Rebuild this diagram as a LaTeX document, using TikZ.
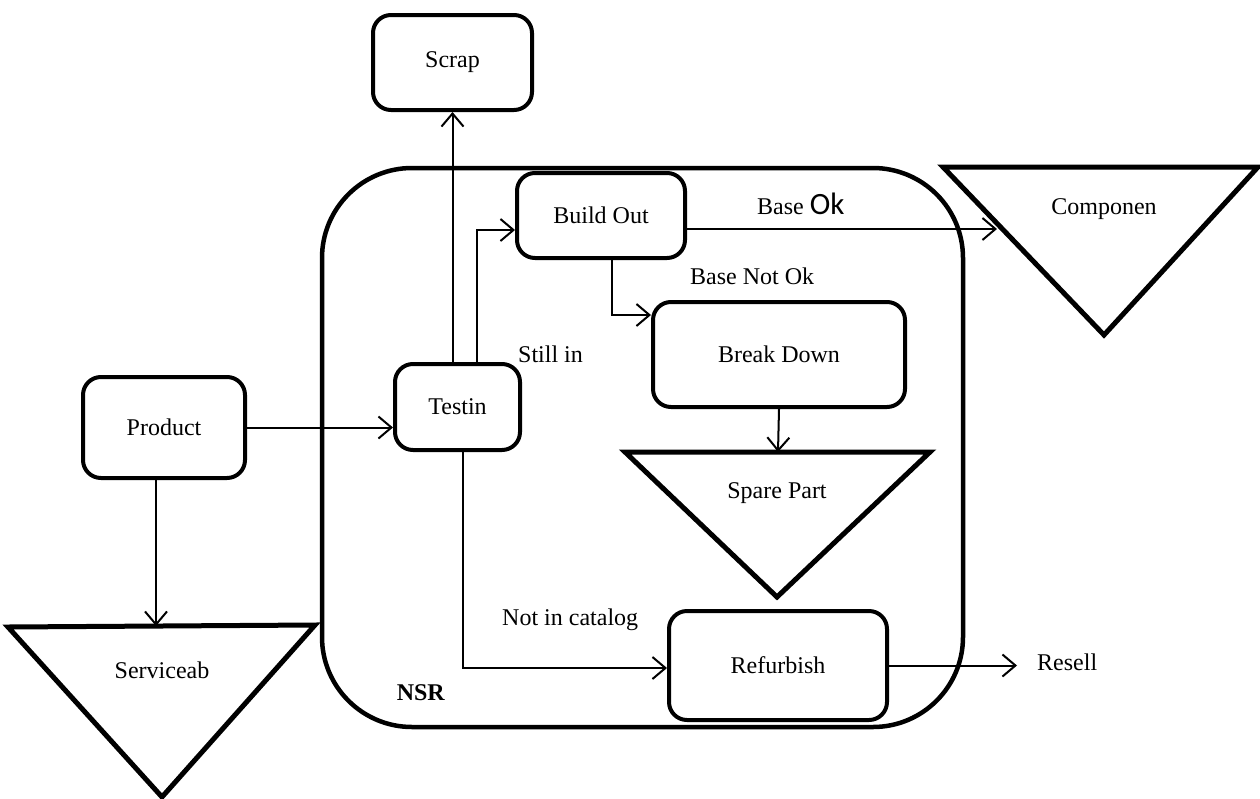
\documentclass[tikz,border=0pt]{standalone}
\usepackage{fontspec}
\setmainfont{Liberation Serif}
\newfontfamily\carlito{Carlito}
\usetikzlibrary{arrows.meta,calc}
\begin{document}
\begin{tikzpicture}[x=1pt,y=-1pt,
  every node/.style={font=\fontsize{24}{28}\selectfont},
  procbox/.style={draw, line width=4, rounded corners=18, fill=white,
    inner sep=0pt, align=center},
  store/.style={draw, line width=5, line join=miter},
  conn/.style={line width=2, -{Straight Barb[length=13pt,width=22pt,line width=2]}},
  lbl/.style={inner sep=0pt, anchor=base west}]
\useasboundingbox (0,0) rectangle (1260,798);

% NSR region
\draw[line width=4.5, rounded corners=90] (322,168) rectangle (963,727);
\node[lbl, anchor=base east, font=\fontsize{24}{28}\selectfont\bfseries] (nsr) at (445,700) {NSR};

% process boxes
\node[procbox, minimum width=159, minimum height=95] (Scrap) at (452.5,62.5) {Scrap};
\node[procbox, minimum width=168, minimum height=85] (BuildOut) at (601,215.5) {Build Out};
\node[procbox, minimum width=125, minimum height=86] (Testin) at (457.5,407) {Testin};
\node[procbox, minimum width=162, minimum height=101] (Product) at (164,427.5) {Product};
\node[procbox, minimum width=252, minimum height=105] (BreakDown) at (779,354.5) {Break Down};
\node[procbox, minimum width=218, minimum height=109] (Refurbish) at (778,665.5) {Refurbish};

% inventory triangles
\draw[store] (943,167) -- (1258,167) -- (1104,335) -- cycle;
\node (Componen) at (1104,209) {Componen};
\coordinate (compIn) at (997,229);

\draw[store] (625,452) -- (930,452) -- (777,597) -- cycle;
\node (SparePart) at (777,493) {Spare Part};
\coordinate (spareTop) at (778,452);

\draw[store] (8,627) -- (315,625) -- (162,797) -- cycle;
\node (Serviceab) at (162,670) {Serviceab};
\coordinate (servTop) at (156,626);

% free labels
\node[lbl] (baseok) at (757,214) {Base {\carlito\fontsize{31}{34}\selectfont Ok}};
\node[lbl] (basenotok) at (690,284) {Base Not Ok};
\node[lbl] (stillin) at (518,362) {Still in};
\node[lbl] (notincat) at (502,625) {Not in catalog};
\node[lbl, anchor=west] (Resell) at (1037,662) {Resell};

% connectors
\draw[conn] (Product.east) -- (Testin.west |- Product.east);
\draw[conn] ([xshift=-8]Product.south) -- (servTop);
\draw[conn] (Testin.north -| Scrap.south) -- (Scrap.south);
\draw[conn] ([xshift=19.5]Testin.north) |- ([yshift=-14.5]BuildOut.west);
\draw[conn] ([yshift=-13.5]BuildOut.east) -- (compIn);
\draw[conn] ([xshift=11]BuildOut.south) |- ([yshift=39.5]BreakDown.west);
\draw[conn] (BreakDown.south) -- (spareTop);
\draw[conn] ([xshift=5.5]Testin.south) |- ([yshift=-2.5]Refurbish.west);
\draw[conn, shorten >=20] (Refurbish.east) -- (Resell.west |- Refurbish.east);
\end{tikzpicture}
\end{document}
